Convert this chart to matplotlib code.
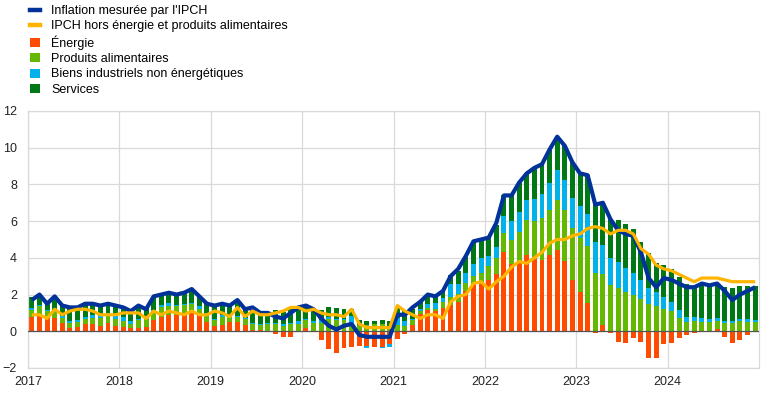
import numpy as np
import matplotlib
matplotlib.use("Agg")
import matplotlib.pyplot as plt
from matplotlib.patches import Patch
from matplotlib.lines import Line2D

plt.rcParams['font.family'] = ['Liberation Sans', 'DejaVu Sans']

# monthly, Jan 2017 - Dec 2024
hicp = [1.7, 2.0, 1.5, 1.9, 1.4, 1.3, 1.3, 1.5, 1.5, 1.4, 1.5, 1.4,
        1.3, 1.1, 1.4, 1.2, 1.9, 2.0, 2.1, 2.0, 2.1, 2.3, 1.9, 1.5,
        1.4, 1.5, 1.4, 1.7, 1.2, 1.3, 1.0, 1.0, 0.8, 0.7, 1.0, 1.3,
        1.4, 1.2, 0.7, 0.3, 0.1, 0.3, 0.4, -0.2, -0.3, -0.3, -0.3, -0.3,
        0.9, 0.9, 1.3, 1.6, 2.0, 1.9, 2.2, 3.0, 3.4, 4.1, 4.9, 5.0,
        5.1, 5.9, 7.4, 7.4, 8.1, 8.6, 8.9, 9.1, 9.9, 10.6, 10.1, 9.2,
        8.6, 8.5, 6.9, 7.0, 6.1, 5.5, 5.3, 5.2, 4.3, 2.9, 2.4, 2.9,
        2.8, 2.6, 2.4, 2.4, 2.6, 2.5, 2.6, 2.2, 1.7, 2.0, 2.2, 2.4]

core = [0.9, 0.9, 0.7, 1.2, 0.9, 1.1, 1.2, 1.2, 1.1, 0.9, 0.9, 0.9,
        1.0, 1.0, 1.0, 0.7, 1.1, 0.9, 1.1, 1.0, 0.9, 1.1, 0.9, 0.9,
        1.1, 1.0, 0.8, 1.3, 0.8, 1.1, 0.9, 0.9, 1.0, 1.1, 1.3, 1.3,
        1.1, 1.2, 1.0, 0.9, 0.9, 0.8, 1.2, 0.4, 0.2, 0.2, 0.2, 0.2,
        1.4, 1.1, 0.9, 0.7, 0.9, 0.9, 0.7, 1.6, 1.9, 2.0, 2.6, 2.7,
        2.3, 2.7, 3.0, 3.5, 3.8, 3.7, 4.0, 4.3, 4.8, 5.0, 5.0, 5.2,
        5.3, 5.6, 5.7, 5.6, 5.3, 5.5, 5.5, 5.3, 4.5, 4.2, 3.6, 3.4,
        3.3, 3.1, 2.9, 2.7, 2.9, 2.9, 2.9, 2.8, 2.7, 2.7, 2.7, 2.7]

energy = [0.79, 0.91, 0.73, 0.74, 0.44, 0.19, 0.22, 0.39, 0.38, 0.29, 0.46, 0.28,
          0.21, 0.20, 0.19, 0.25, 0.59, 0.77, 0.91, 0.88, 0.91, 1.03, 0.87, 0.53,
          0.26, 0.35, 0.51, 0.51, 0.36, 0.09, 0.05, -0.06, -0.17, -0.30, -0.31, 0.02,
          0.19, -0.03, -0.45, -0.95, -1.20, -0.93, -0.84, -0.78, -0.82, -0.83, -0.83, -0.70,
          -0.42, -0.15, 0.36, 0.95, 1.16, 1.13, 1.27, 1.45, 1.60, 2.20, 2.55, 2.55,
          2.78, 3.10, 4.33, 3.65, 3.84, 4.15, 3.96, 3.90, 4.16, 4.42, 3.82, 2.80,
          2.15, 1.56, -0.08, 0.33, -0.08, -0.58, -0.64, -0.36, -0.58, -1.45, -1.45, -0.71,
          -0.64, -0.36, -0.20, -0.09, 0.02, 0.01, 0.10, -0.31, -0.64, -0.45, -0.20, 0.01]

food = [0.35, 0.49, 0.35, 0.29, 0.29, 0.27, 0.27, 0.27, 0.37, 0.45, 0.43, 0.41,
        0.37, 0.20, 0.41, 0.51, 0.49, 0.53, 0.49, 0.47, 0.51, 0.43, 0.37, 0.35,
        0.35, 0.45, 0.29, 0.29, 0.31, 0.31, 0.27, 0.37, 0.39, 0.29, 0.37, 0.39,
        0.42, 0.44, 0.46, 0.69, 0.62, 0.60, 0.39, 0.33, 0.35, 0.37, 0.37, 0.25,
        0.33, 0.28, 0.24, 0.15, 0.13, 0.11, 0.35, 0.43, 0.43, 0.41, 0.48, 0.65,
        0.75, 0.88, 1.05, 1.30, 1.58, 1.90, 2.05, 2.25, 2.45, 2.75, 2.80, 2.85,
        2.95, 3.10, 3.20, 2.80, 2.50, 2.33, 2.16, 1.95, 1.76, 1.48, 1.38, 1.22,
        1.08, 0.75, 0.50, 0.54, 0.50, 0.48, 0.44, 0.46, 0.46, 0.56, 0.52, 0.50]

neig = [0.13, 0.05, 0.08, 0.08, 0.08, 0.11, 0.13, 0.13, 0.13, 0.11, 0.11, 0.13,
        0.18, 0.16, 0.05, 0.08, 0.08, 0.11, 0.13, 0.08, 0.08, 0.08, 0.11, 0.11,
        0.08, 0.10, 0.05, 0.05, 0.08, 0.05, 0.08, 0.08, 0.08, 0.08, 0.10, 0.13,
        0.08, 0.13, 0.13, 0.08, 0.05, 0.05, 0.42, -0.03, -0.08, -0.03, -0.08, -0.13,
        0.40, 0.27, 0.08, 0.11, 0.19, 0.32, 0.19, 0.70, 0.56, 0.54, 0.65, 0.78,
        0.55, 0.62, 0.90, 1.05, 1.10, 1.10, 1.20, 1.35, 1.45, 1.60, 1.60, 1.60,
        1.72, 1.74, 1.68, 1.58, 1.50, 1.42, 1.28, 1.20, 1.05, 0.90, 0.74, 0.64,
        0.51, 0.41, 0.28, 0.23, 0.18, 0.18, 0.18, 0.10, 0.10, 0.13, 0.15, 0.13]

services = [0.57, 0.57, 0.44, 0.80, 0.57, 0.71, 0.71, 0.71, 0.66, 0.53, 0.53, 0.57,
            0.53, 0.58, 0.67, 0.44, 0.71, 0.58, 0.62, 0.58, 0.58, 0.71, 0.58, 0.58,
            0.71, 0.62, 0.62, 0.85, 0.45, 0.71, 0.54, 0.58, 0.67, 0.67, 0.85, 0.80,
            0.67, 0.72, 0.58, 0.54, 0.58, 0.54, 0.40, 0.31, 0.22, 0.18, 0.27, 0.31,
            0.59, 0.55, 0.55, 0.38, 0.46, 0.29, 0.38, 0.46, 0.72, 0.88, 1.14, 1.00,
            1.00, 1.20, 1.15, 1.45, 1.55, 1.45, 1.65, 1.55, 1.80, 1.80, 1.85, 1.95,
            1.80, 2.10, 2.05, 2.25, 2.10, 2.30, 2.40, 2.40, 2.05, 1.90, 1.62, 1.76,
            1.82, 1.78, 1.82, 1.69, 1.87, 1.87, 1.82, 1.87, 1.82, 1.78, 1.78, 1.82]

labels = ["Inflation mesurée par l'IPCH",
          "IPCH hors énergie et produits alimentaires",
          "Énergie", "Produits alimentaires",
          "Biens industriels non énergétiques", "Services"]
colors = ['#003299', '#ffb400', '#ff4b00', '#65b800', '#00b1ea', '#007816']

x = 2017 + (np.arange(len(hicp)) + 0.5) / 12
comps = [np.array(energy), np.array(food), np.array(neig), np.array(services)]

fig = plt.figure(figsize=(7.7, 3.95), dpi=100)
ax = fig.add_axes([0.0364, 0.0684, 0.9493, 0.6506])

pos_base = np.zeros(len(x))
neg_base = np.zeros(len(x))
w = 0.65 / 12
for vals, c in zip(comps, colors[2:]):
    p = np.clip(vals, 0, None)
    n = np.clip(vals, None, 0)
    ax.bar(x, p, w, bottom=pos_base, color=c, linewidth=0, zorder=2)
    ax.bar(x, n, w, bottom=neg_base, color=c, linewidth=0, zorder=2)
    pos_base += p
    neg_base += n

ax.plot(x, hicp, color=colors[0], lw=3.0, zorder=4, solid_capstyle='butt')
ax.plot(x, core, color=colors[1], lw=2.3, zorder=5, solid_capstyle='butt')
ax.axhline(0, color='#555555', lw=0.9, zorder=3)

ax.set_xlim(2017, 2025)
ax.set_ylim(-2, 12)
ax.set_yticks(range(-2, 13, 2))
ax.set_xticks(range(2017, 2025))
ax.grid(True, color='#d9d9d9', lw=0.9, zorder=0)
ax.set_axisbelow(True)
for s in ax.spines.values():
    s.set_color('#d9d9d9')
    s.set_linewidth(0.9)
ax.tick_params(length=0, labelsize=9, colors='#222222')
ax.tick_params(axis='y', pad=8)
ax.tick_params(axis='x', pad=6)

handles = [Line2D([], [], color=colors[0], lw=3.2),
           Line2D([], [], color=colors[1], lw=3.2)]
handles += [Patch(facecolor=c, edgecolor='none') for c in colors[2:]]
fig.legend(handles, labels, loc='upper left', bbox_to_anchor=(0.033, 1.0),
           frameon=False, fontsize=9, handlelength=0.75, handleheight=0.75,
           handletextpad=0.9, labelspacing=0.26, borderaxespad=0)

fig.savefig('out.png', dpi=100)
